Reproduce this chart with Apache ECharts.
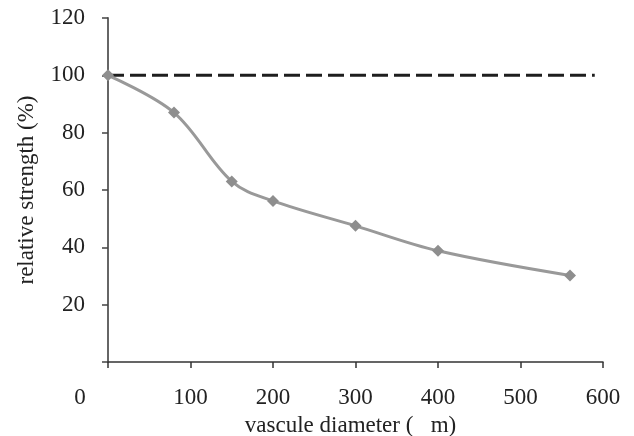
<!DOCTYPE html>
<html>
<head>
<meta charset="utf-8">
<script src="https://cdn.jsdelivr.net/npm/echarts@6/dist/echarts.min.js"></script>
<style>
  html, body { margin: 0; padding: 0; background: #fff; }
  #chart { width: 634px; height: 436px; }
</style>
</head>
<body>
<div id="chart"></div>
<script>
// vascule diameter (x) vs relative strength (%)
const diameters = [0, 80, 150, 200, 300, 400, 560]
const strength = [100, 87, 63, 56.2, 47.5, 38.8, 30.2]
// reference line at 100 %
const refX = [0, 590]
const refY = [100, 100]
const xTicks = [0, 100, 200, 300, 400, 500, 600]
const yTicks = [20, 40, 60, 80, 100, 120]

const font = 'Liberation Serif'
const fs = 23
const chart = echarts.init(document.getElementById('chart'))

chart.setOption({
  animation: false,
  grid: { left: 108, right: 31, top: 18, bottom: 74, outerBoundsMode: 'none', containLabel: false },
  xAxis: {
    type: 'value',
    min: xTicks[0],
    max: xTicks[xTicks.length - 1],
    interval: 100,
    splitLine: { show: false },
    axisLine: { lineStyle: { color: '#333', width: 1.5 } },
    axisTick: { show: true, length: 6, lineStyle: { color: '#333', width: 1.5 } },
    axisLabel: {
      margin: 24,
      fontFamily: font,
      fontSize: fs,
      color: '#222',
      formatter: v => v === 0 ? '{z|0}' : String(v),
      rich: { z: { fontFamily: font, fontSize: fs, color: '#222', padding: [0, 56, 0, 0] } }
    },
    name: 'vascule diameter (   m)',
    nameLocation: 'middle',
    nameGap: 52,
    nameTextStyle: { fontFamily: font, fontSize: fs, color: '#222', padding: [0, 10, 0, 0] }
  },
  yAxis: {
    type: 'value',
    min: 0,
    max: 120,
    interval: 20,
    splitLine: { show: false },
    axisLine: { lineStyle: { color: '#666', width: 2 } },
    axisTick: { show: true, length: 6, lineStyle: { color: '#444', width: 1.5 } },
    axisLabel: {
      margin: 23,
      fontFamily: font,
      fontSize: fs,
      color: '#222',
      formatter: v => yTicks.includes(v) ? String(v) : ''
    },
    name: 'relative strength (%)',
    nameLocation: 'middle',
    nameGap: 70,
    nameTextStyle: { fontFamily: font, fontSize: fs, color: '#222' }
  },
  series: [
    {
      type: 'line',
      data: refX.map((x, i) => [x, refY[i]]),
      symbol: 'none',
      lineStyle: { color: '#1e1e1e', width: 3, type: [16, 6] },
      z: 1
    },
    {
      type: 'line',
      data: diameters.map((x, i) => [x, strength[i]]),
      smooth: 0.35,
      symbol: 'diamond',
      symbolSize: 12,
      itemStyle: { color: '#8e8e8e' },
      lineStyle: { color: '#999', width: 3 },
      z: 2
    }
  ]
})
</script>
</body>
</html>
